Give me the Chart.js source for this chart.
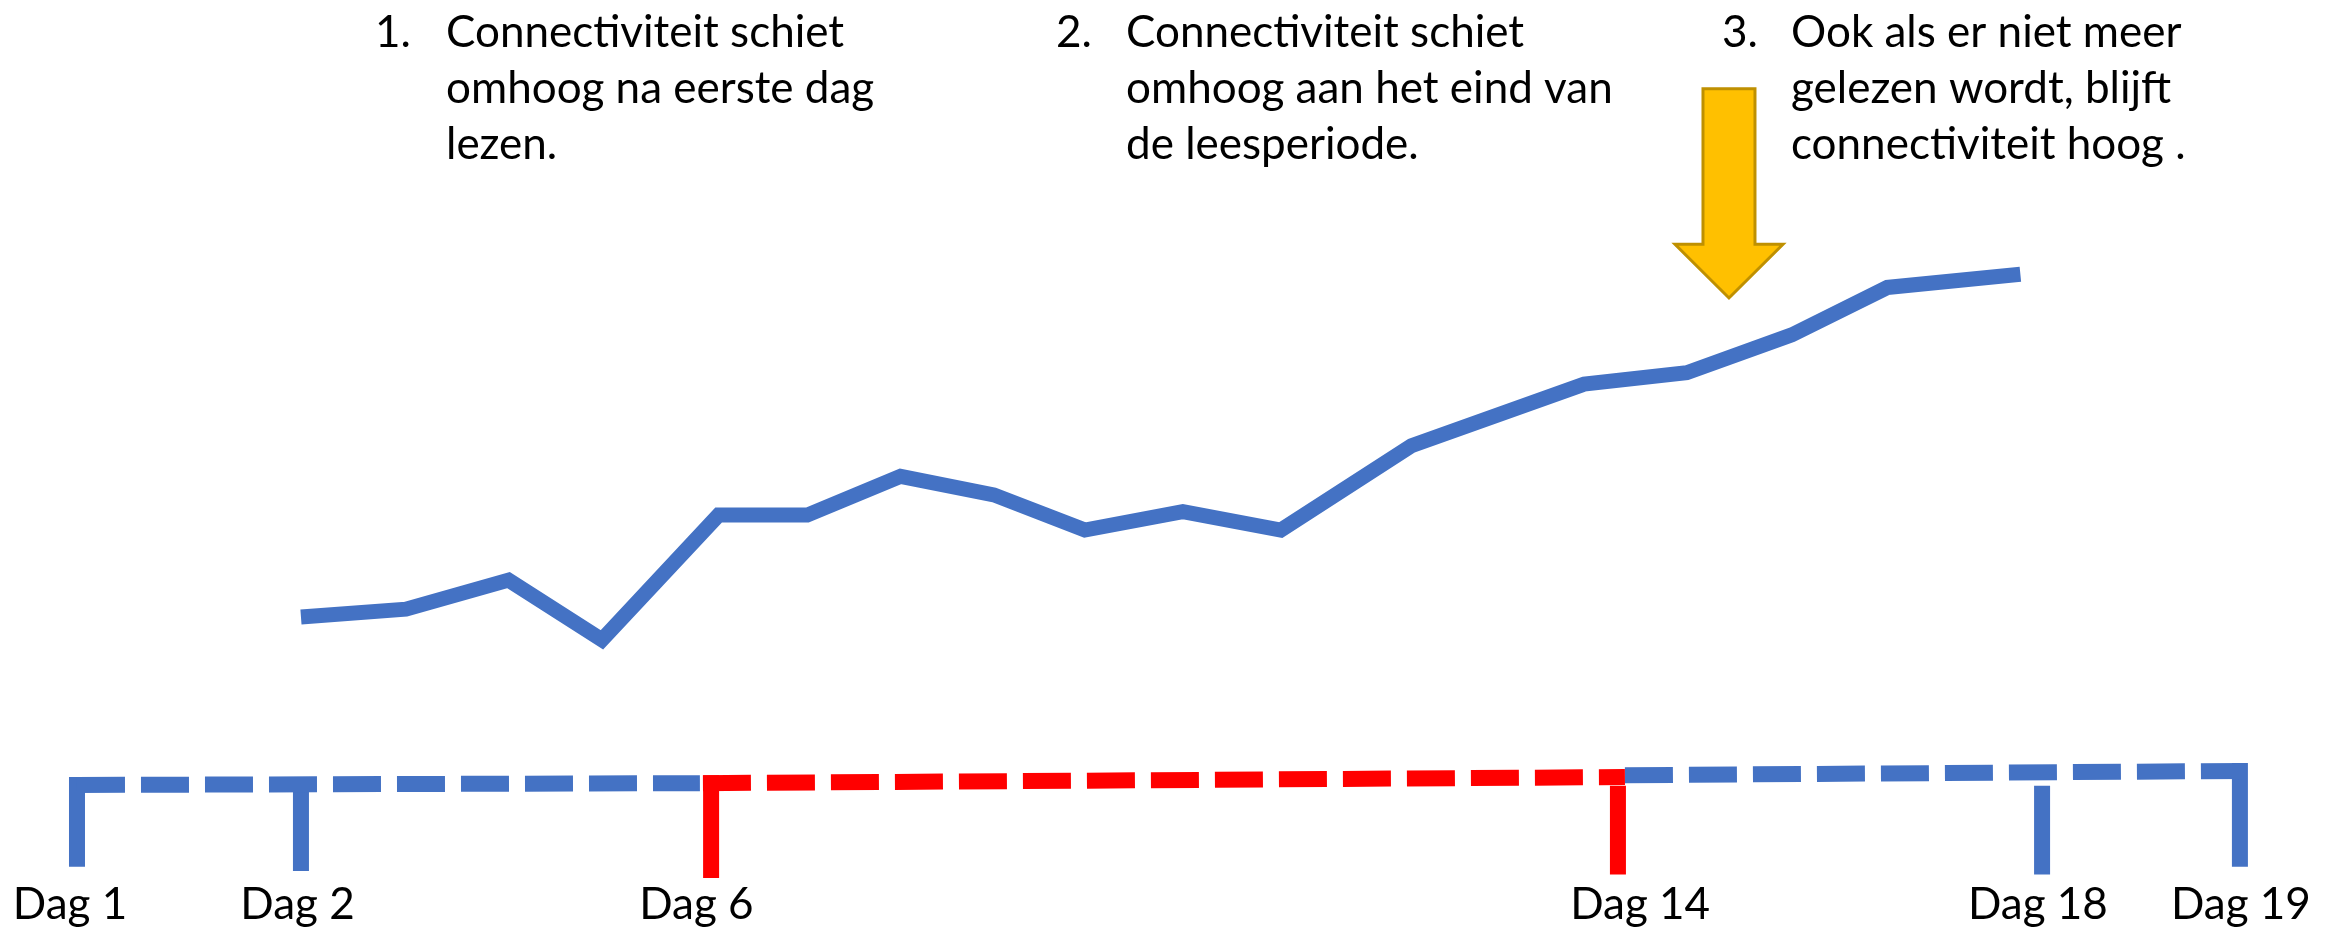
<!DOCTYPE html>
<html>
<head>
<meta charset="utf-8">
<script src="https://cdn.jsdelivr.net/npm/chart.js@4/dist/chart.umd.min.js"></script>
<style>
  html, body { margin: 0; padding: 0; background: #fff; }
  #wrap { width: 2333px; height: 930px; }
</style>
</head>
<body>
<div id="wrap"><canvas id="myChart" width="2333" height="930"></canvas></div>
<script>
// connectiviteit per dag (dag 2 t/m 18), x = positie op de tijdas (% breedte)
const lineDays = [2, 3, 4, 5, 6, 7, 8, 9, 10, 11, 12, 13, 14, 15, 16, 17, 18];
const lineX = [12.9, 17.4, 21.8, 25.8, 30.8, 34.6, 38.6, 42.6, 46.5, 50.7, 54.9, 60.5, 67.9, 72.3, 76.8, 80.9, 86.6];
const connectivity = [29.8, 30.7, 34.0, 27.2, 41.4, 41.4, 45.8, 43.7, 39.7, 41.8, 39.7, 49.3, 56.3, 57.6, 61.9, 67.3, 68.8];

// tijdas: markeringen
const dagLabels = ["Dag 1", "Dag 2", "Dag 6", "Dag 14", "Dag 18", "Dag 19"];
const dagLabelX = [3.0, 12.75, 29.85, 70.3, 87.35, 96.05];
const dagMarkX = [3.3, 12.9, 30.48, 69.35, 87.53, 96.01];
const dagMarkTop = [11.6, 10.7, 11.8, 10.6, 10.6, 13.2];
const dagMarkBottom = [1.4, 0.9, 0.1, 0.5, 0.5, 1.4];
const dagMarkPeriod = ["voor", "voor", "lezen", "lezen", "na", "na"];

// tijdas: periodes (voor lezen, leesperiode, na lezen)
const periodNames = ["voor", "lezen", "na"];
const periodStartX = [3.3, 30.13, 69.65];
const periodEndX = [30.0, 69.65, 96.31];
const periodStartY = [10.7, 10.9, 11.8];
const periodEndY = [10.9, 11.6, 12.3];

// pijl boven dag 16
const arrowX = 74.11;
const arrowTop = 89.9;
const arrowHeadBase = 72.2;
const arrowTip = 66.1;

// toelichting
const notes = [
  ["Connectiviteit schiet", "omhoog na eerste dag", "lezen."],
  ["Connectiviteit schiet", "omhoog aan het eind van", "de leesperiode."],
  ["Ook als er niet meer", "gelezen wordt, blijft", "connectiviteit hoog ."]
];

const BLUE = "#4472C4";
const RED = "#FF0000";
const periodColor = { voor: BLUE, lezen: RED, na: BLUE };
const FONT = "Lato, 'Open Sans', sans-serif";

const datasets = [];

datasets.push({
  label: "Connectiviteit",
  data: lineX.map((x, i) => ({ x: x, y: connectivity[i] })),
  borderColor: BLUE,
  borderWidth: 15,
  borderJoinStyle: "miter",
  pointRadius: 0,
  tension: 0,
  clip: false,
});

periodNames.forEach((p, i) => {
  datasets.push({
    label: p,
    data: [
      { x: periodStartX[i], y: periodStartY[i] },
      { x: periodEndX[i], y: periodEndY[i] },
    ],
    borderColor: periodColor[p],
    borderWidth: 16,
    borderDash: [48, 16],
    borderCapStyle: "butt",
    pointRadius: 0,
    clip: false,
  });
});

dagLabels.forEach((d, i) => {
  datasets.push({
    label: d,
    data: [
      { x: dagMarkX[i], y: dagMarkTop[i] },
      { x: dagMarkX[i], y: dagMarkBottom[i] },
    ],
    borderColor: periodColor[dagMarkPeriod[i]],
    borderWidth: 16,
    borderCapStyle: "butt",
    pointRadius: 0,
    clip: false,
  });
});

const arrowPlugin = {
  id: "arrow",
  afterDatasetsDraw(chart) {
    const { ctx, scales } = chart;
    const cx = scales.x.getPixelForValue(arrowX);
    const top = scales.y.getPixelForValue(arrowTop);
    const base = scales.y.getPixelForValue(arrowHeadBase);
    const tip = scales.y.getPixelForValue(arrowTip);
    const shaft = 26, head = 54;
    ctx.save();
    ctx.beginPath();
    ctx.moveTo(cx - shaft, top);
    ctx.lineTo(cx + shaft, top);
    ctx.lineTo(cx + shaft, base);
    ctx.lineTo(cx + head, base);
    ctx.lineTo(cx, tip);
    ctx.lineTo(cx - head, base);
    ctx.lineTo(cx - shaft, base);
    ctx.closePath();
    ctx.fillStyle = "#FFC000";
    ctx.fill();
    ctx.lineWidth = 3;
    ctx.strokeStyle = "#BF9000";
    ctx.stroke();
    ctx.restore();
  },
};

const notesPlugin = {
  id: "notes",
  afterDraw(chart) {
    const ctx = chart.ctx;
    const numX = [375, 1056, 1722];
    const textX = [446, 1126, 1791];
    const baselines = [47, 103, 159];
    ctx.save();
    ctx.fillStyle = "#000";
    ctx.font = "44px " + FONT;
    ctx.textBaseline = "alphabetic";
    notes.forEach((lines, i) => {
      ctx.fillText((i + 1) + ".", numX[i], baselines[0]);
      lines.forEach((t, j) => ctx.fillText(t, textX[i], baselines[j]));
    });
    ctx.restore();
  },
};

const myChart = new Chart(document.getElementById("myChart").getContext("2d"), {
  type: "line",
  data: { datasets: datasets },
  options: {
    responsive: false,
    animation: false,
    layout: { padding: 0 },
    plugins: { legend: { display: false }, tooltip: { enabled: false } },
    scales: {
      x: {
        type: "linear",
        min: 0,
        max: 100,
        grid: { display: false, drawTicks: false },
        border: { display: false },
        afterBuildTicks: (scale) => {
          scale.ticks = dagLabelX.map((v) => ({ value: v }));
        },
        ticks: {
          autoSkip: false,
          maxRotation: 0,
          padding: 2,
          color: "#000",
          font: { family: FONT, size: 44, lineHeight: 47 / 44 },
          callback: (value, index) => dagLabels[index],
        },
      },
      y: { type: "linear", min: 0, max: 100, display: false },
    },
  },
  plugins: [arrowPlugin, notesPlugin],
});
</script>
</body>
</html>
